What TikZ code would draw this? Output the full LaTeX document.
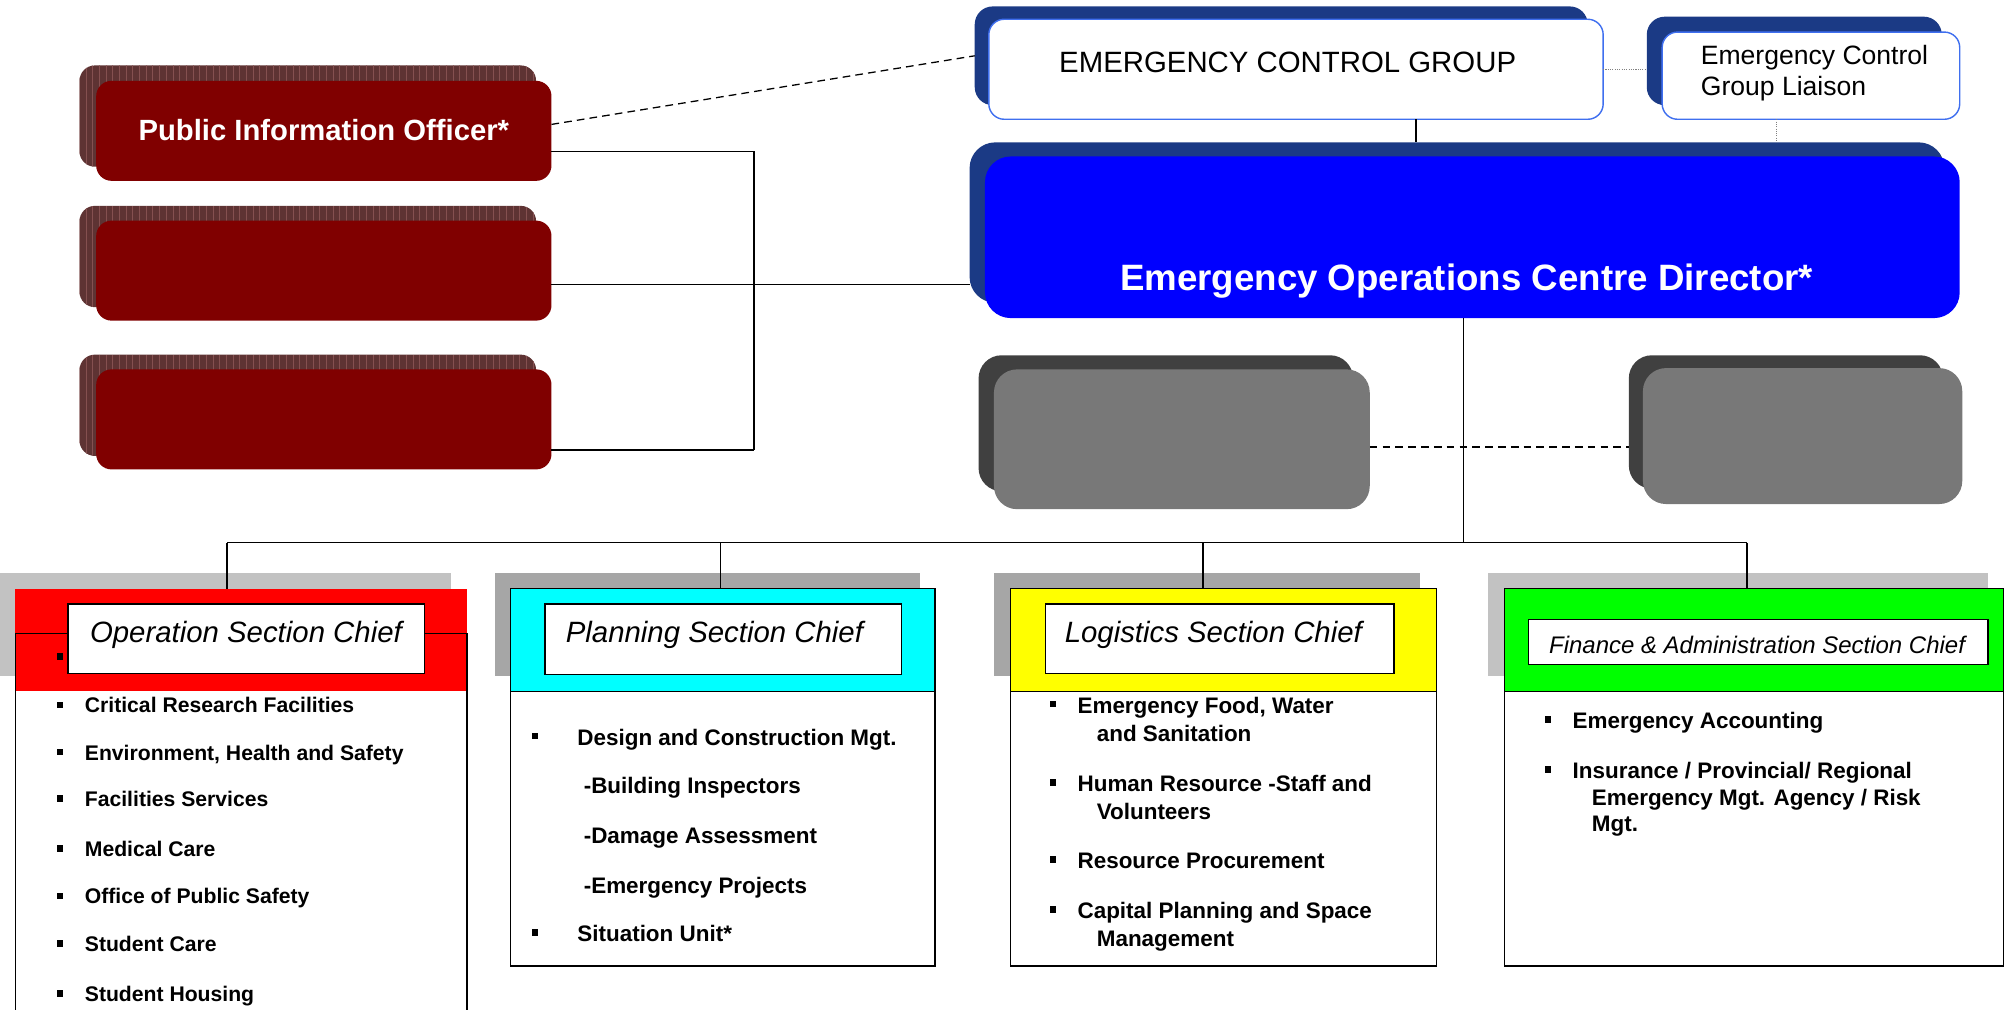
\documentclass[tikz,border=0pt]{standalone}
\usepackage{fontspec}
\setmainfont{Liberation Sans}
\definecolor{maroonc}{HTML}{800000}
\definecolor{maroonsh}{HTML}{5E3333}
\definecolor{maroonln}{HTML}{855050}
\definecolor{navy}{HTML}{1B3A85}
\definecolor{bordblue}{HTML}{3F6FEF}
\definecolor{eocblue}{HTML}{0000FF}
\definecolor{greysh}{HTML}{404040}
\definecolor{greyfr}{HTML}{787878}
\definecolor{secshA}{HTML}{C2C2C2}
\definecolor{secshB}{HTML}{A6A6A6}
\definecolor{opsred}{HTML}{FF0000}
\definecolor{plancyan}{HTML}{00FFFF}
\definecolor{logyellow}{HTML}{FFFF00}
\definecolor{fingreen}{HTML}{00FF00}
\begin{document}
\begin{tikzpicture}[x=1pt,y=-1pt,
  bx/.style={rectangle, inner sep=0pt, outer sep=0pt},
  mshadow/.style={bx, fill=maroonsh, rounded corners=12pt, minimum width=356pt, minimum height=79pt},
  mfront/.style={bx, fill=maroonc, rounded corners=12pt, minimum width=355pt, minimum height=78pt},
  wbox/.style={bx, fill=white, draw=bordblue, line width=1.1pt, rounded corners=12pt},
  nshadow/.style={bx, fill=navy, rounded corners=14pt},
  gshadow/.style={bx, fill=greysh, rounded corners=18pt},
  gfront/.style={bx, fill=greyfr, rounded corners=18pt},
  secbox/.style={bx, draw=black, line width=1.2pt},
  conn/.style={draw=black, line width=1.1pt},
  dotconn/.style={draw=gray, densely dotted, line width=0.8pt},
  dashconn/.style={draw=black, dashed, line width=1pt, dash pattern=on 6pt off 4pt},
  ttl/.style={inner sep=0pt, font=\fontsize{22.9}{27}\selectfont\itshape},
  itemA/.style={inner sep=0pt, anchor=base west, font=\fontsize{16.5}{20}\selectfont\bfseries},
  itemB/.style={inner sep=0pt, anchor=base west, font=\fontsize{17.5}{21}\selectfont\bfseries},
  bul/.style={rectangle, fill=black, inner sep=0pt, minimum size=5pt}
]
\useasboundingbox (0,0) rectangle (1568,787.5);

% ---------- maroon boxes ----------
\node[mshadow] (m1s) at (240,90.5) {};
\begin{scope}
\clip[rounded corners=12pt] (m1s.south west) rectangle (m1s.north east);
\foreach \x in {0,5.2,...,356} \draw[maroonln, line width=0.6pt] ([xshift=\x pt]m1s.south west) -- ([xshift=\x pt]m1s.north west);
\end{scope}
\node[mfront] (m1) at (252.5,102) {};
\node[inner sep=0pt, anchor=base, text=white, font=\fontsize{22.8}{27}\selectfont\bfseries] (m1t) at (252.5,109.2) {Public Information Officer*};

\node[mshadow] (m2s) at (240,200) {};
\begin{scope}
\clip[rounded corners=12pt] (m2s.south west) rectangle (m2s.north east);
\foreach \x in {0,5.2,...,356} \draw[maroonln, line width=0.6pt] ([xshift=\x pt]m2s.south west) -- ([xshift=\x pt]m2s.north west);
\end{scope}
\node[mfront] (m2) at (252.5,211) {};

\node[mshadow] (m3s) at (240,316) {};
\begin{scope}
\clip[rounded corners=12pt] (m3s.south west) rectangle (m3s.north east);
\foreach \x in {0,5.2,...,356} \draw[maroonln, line width=0.6pt] ([xshift=\x pt]m3s.south west) -- ([xshift=\x pt]m3s.north west);
\end{scope}
\node[mfront] (m3) at (252.5,327) {};

% ---------- control group ----------
\node[nshadow, minimum width=478pt, minimum height=77pt] (ecgs) at (999,43.5) {};
\node[wbox, minimum width=479pt, minimum height=78pt] (ecg) at (1010.5,54) {};
\node[inner sep=0pt, anchor=base, font=\fontsize{22.9}{27}\selectfont] (ecgt) at (1004,56.2) {EMERGENCY CONTROL GROUP};

\node[nshadow, minimum width=230pt, minimum height=69pt] (lias) at (1399,47.5) {};
\node[wbox, minimum width=232pt, minimum height=68pt] (lia) at (1412,59) {};
\node[inner sep=0pt, anchor=base west, font=\fontsize{20.7}{24}\selectfont] (liat1) at (1326,50.4) {Emergency Control};
\node[inner sep=0pt, anchor=base west, font=\fontsize{20.7}{24}\selectfont] (liat2) at (1326,74.4) {Group Liaison};

% ---------- EOC director ----------
\node[nshadow, rounded corners=20pt, minimum width=760pt, minimum height=125pt] (eocs) at (1136,173.5) {};
\node[bx, fill=eocblue, rounded corners=20pt, minimum width=760pt, minimum height=126pt] (eoc) at (1148,185) {};
\node[inner sep=0pt, anchor=base, text=white, font=\fontsize{28.6}{33}\selectfont\bfseries] (eoct) at (1143.5,226.3) {Emergency Operations Centre Director*};

% ---------- grey boxes ----------
\node[gshadow, minimum width=292pt, minimum height=106pt] (g1s) at (909,330) {};
\node[gfront, minimum width=293pt, minimum height=109pt] (g1) at (921.5,342.5) {};
\node[gshadow, minimum width=245pt, minimum height=104pt] (g2s) at (1392.5,329) {};
\node[gfront, minimum width=249pt, minimum height=106pt] (g2) at (1405.5,340) {};

% ---------- Operation section ----------
\node[bx, fill=secshA, minimum width=352pt, minimum height=80pt] (opss) at (176,487) {};
\node[bx, fill=white, minimum width=352pt, minimum height=320pt] (opsb) at (188,654) {};
\node[bx, fill=opsred, minimum width=352pt, minimum height=80pt] (opsh) at (188,499) {};
\draw[line width=1.2pt] (opsb.south west) -- (opsb.north west) -- (opsb.north east) -- (opsb.south east);
\node[bul] (ob0) at (47,512) {};
\node[secbox, fill=white, minimum width=278pt, minimum height=54pt] (opst) at (192,498) {};
\node[ttl, anchor=base west] (opstx) at (70,501) {Operation Section Chief};

\node[bul] (ob1) at (47,549.5) {};
\node[itemA] (o1) at (66,555.6) {Critical Research Facilities};
\node[bul] (ob2) at (47,586.5) {};
\node[itemA] (o2) at (66,592.6) {Environment, Health and Safety};
\node[bul] (ob3) at (47,622.5) {};
\node[itemA] (o3) at (66,628.6) {Facilities Services};
\node[bul] (ob4) at (47,661.5) {};
\node[itemA] (o4) at (66,667.6) {Medical Care};
\node[bul] (ob5) at (47,698.5) {};
\node[itemA] (o5) at (66,704.6) {Office of Public Safety};
\node[bul] (ob6) at (47,735.5) {};
\node[itemA] (o6) at (66,741.6) {Student Care};
\node[bul] (ob7) at (47,774.5) {};
\node[itemA] (o7) at (66,780.6) {Student Housing};

% ---------- Planning section ----------
\node[bx, fill=secshB, minimum width=331pt, minimum height=80pt] (plns) at (551.5,487) {};
\node[secbox, fill=plancyan, minimum width=331pt, minimum height=80pt] (plnh) at (563.5,499) {};
\node[secbox, fill=white, minimum width=331pt, minimum height=214pt] (plnb) at (563.5,646) {};
\node[secbox, fill=white, line width=1pt, minimum width=278pt, minimum height=55pt] (plnt) at (564,498.5) {};
\node[ttl, anchor=base west] (plntx) at (441,501) {Planning Section Chief};

\node[bul] (pb1) at (417,574) {};
\node[itemB] (p1) at (450,581) {Design and Construction Mgt.};
\node[itemB] (p2) at (455,619) {-Building Inspectors};
\node[itemB] (p3) at (455,658) {-Damage Assessment};
\node[itemB] (p4) at (455,697) {-Emergency Projects};
\node[bul] (pb5) at (417,727) {};
\node[itemB] (p5) at (450,734) {Situation Unit*};

% ---------- Logistics section ----------
\node[bx, fill=secshB, minimum width=332pt, minimum height=80pt] (logs) at (941,487) {};
\node[secbox, fill=logyellow, minimum width=332pt, minimum height=80pt] (logh) at (954,499) {};
\node[secbox, fill=white, minimum width=332pt, minimum height=214pt] (logb) at (954,646) {};
\node[secbox, fill=white, line width=1pt, minimum width=272pt, minimum height=54pt] (logt) at (951,498) {};
\node[ttl, anchor=base west] (logtx) at (830,501) {Logistics Section Chief};

\node[bul] (lb1) at (821,549) {};
\node[itemB] (l1) at (840,556) {Emergency Food, Water};
\node[itemB] (l1b) at (855,578) {and Sanitation};
\node[bul] (lb2) at (821,610) {};
\node[itemB] (l2) at (840,617) {Human Resource -Staff and};
\node[itemB] (l2b) at (855,639) {Volunteers};
\node[bul] (lb3) at (821,670) {};
\node[itemB] (l3) at (840,677) {Resource Procurement};
\node[bul] (lb4) at (821,709) {};
\node[itemB] (l4) at (840,716) {Capital Planning and Space};
\node[itemB] (l4b) at (855,738) {Management};

% ---------- Finance section ----------
\node[bx, fill=secshA, minimum width=390pt, minimum height=80pt] (fins) at (1355,487) {};
\node[secbox, fill=fingreen, minimum width=389pt, minimum height=80pt] (finh) at (1367.5,499) {};
\node[secbox, fill=white, minimum width=389pt, minimum height=214pt] (finb) at (1367.5,646) {};
\node[secbox, fill=white, line width=1pt, minimum width=358pt, minimum height=35pt] (fint) at (1371,500.5) {};
\node[inner sep=0pt, anchor=base, font=\fontsize{18.7}{22}\selectfont\itshape] (fintx) at (1370,509.6) {Finance \& Administration Section Chief};

\node[bul] (fb1) at (1207,561) {};
\node[itemB] (f1) at (1226,568) {Emergency Accounting};
\node[bul] (fb2) at (1207,600) {};
\node[itemB] (f2) at (1226,607) {Insurance / Provincial/ Regional};
\node[itemB] (f2b) at (1241,628) {Emergency Mgt. Agency / Risk};
\node[itemB] (f2c) at (1241,648) {Mgt.};

% ---------- connector coordinates ----------
\coordinate (j1) at (588,118);
\coordinate (j2) at (588,222);
\coordinate (j3) at (588,351);
\coordinate (c1) at (1104,100);
\coordinate (c2) at (1141,423);
\coordinate (c3) at (1385,100);
\coordinate (b0) at (177,423);
\coordinate (b1) at (562,423);
\coordinate (b2) at (938,423);
\coordinate (b3) at (1362,423);
\coordinate (d1) at (1100,348.5);

% ---------- connectors ----------
\draw[conn] (m1.east |- j1) -- (j1) -- (j3);
\draw[conn] (m3.east |- j3) -- (j3);
\draw[conn] (m2.east |- j2) -- (eocs.west |- j2);
\draw[dashconn] ([yshift=5pt]m1.east) -- (ecgs.west);
\draw[conn] (ecg.south -| c1) -- (eocs.north -| c1);
\draw[dotconn] (ecg.east) -- (ecg.east -| lias.west);
\draw[dotconn] (lia.south -| c3) -- (eocs.north -| c3);
\draw[conn] (eoc.south -| c2) -- (c2);
\draw[dashconn] (g1.east |- d1) -- (g2s.west |- d1);
\draw[conn] (b0) -- (b3);
\draw[conn] (b0) -- (opsh.north -| b0);
\draw[conn] (b1) -- (plnh.north -| b1);
\draw[conn] (b2) -- (logh.north -| b2);
\draw[conn] (b3) -- (finh.north -| b3);
\end{tikzpicture}
\end{document}
